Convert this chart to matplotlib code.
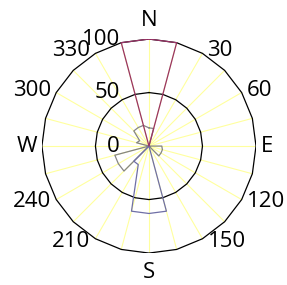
import numpy as np
import matplotlib
matplotlib.use("Agg")
import matplotlib.pyplot as plt

# 24 directions, 15 degrees apart, labels only every 30 degrees
directions = list(range(0, 360, 15))
dir_labels = ["N", "", "30", "", "60", "", "E", "", "120", "", "150", "",
              "S", "", "210", "", "240", "", "W", "", "300", "", "330", ""]

# series values (per direction above)
red_vals = [100, 100, 0, 0, 0, 0, 0, 0, 0, 0, 0, 0,
            0, 0, 0, 0, 0, 0, 0, 0, 0, 0, 0, 100]
blue_vals = [0, 0, 0, 0, 0, 0, 0, 0, 0, 0, 0, 63,
             63, 63, 20, 20, 0, 0, 0, 0, 0, 0, 0, 0]
gray_vals = [17, 17, 0, 0, 0, 0, 12, 13, 13, 13, 0, 0,
             0, 0, 0, 33, 33, 33, 0, 12, 10, 20, 20, 20]
rings = [50, 100]
rlabels = [0, 50, 100]

RED = "#993366"
BLUE = "#6F6FA6"
GRAY = "#858585"
SPOKE = "#FFFF9E"

plt.rcParams["font.family"] = ["Open Sans", "DejaVu Sans"]

theta = np.deg2rad(directions)
sx, sy = np.sin(theta), np.cos(theta)   # clockwise from north


def polygon(vals):
    v = np.append(vals, vals[0])
    return v * np.append(sx, sx[0]), v * np.append(sy, sy[0])


fig = plt.figure(figsize=(2.87, 2.85), dpi=100)
ax = fig.add_axes([0.146, 0.112, 0.746, 0.751])
ax.set_xlim(-100, 100)
ax.set_ylim(-100, 100)
ax.set_axis_off()

# spokes
for x, y in zip(sx, sy):
    ax.plot([0, 100 * x], [0, 100 * y], color=SPOKE, linewidth=0.8, zorder=1)
# polygon gridlines (radar style)
for r in rings:
    ax.plot(*polygon([r] * len(directions)), color="black", linewidth=0.9, zorder=2)

for vals, col in [(gray_vals, GRAY), (blue_vals, BLUE), (red_vals, RED)]:
    ax.plot(*polygon(vals), color=col, linewidth=0.9, zorder=3)

# direction labels, placed beside the outer vertex (Excel style)
for x, y, lab in zip(sx, sy, dir_labels):
    if not lab:
        continue
    if abs(x) < 0.01:
        ha, dx = "center", 0
    else:
        ha, dx = ("left", 5) if x > 0 else ("right", -5)
    if y > 0.99:
        va, dy = "bottom", 8
    elif y < -0.99:
        va, dy = "top", -9
    else:
        va, dy = "center", 3.5 * y
    ax.annotate(lab, xy=(100 * x, 100 * y), xytext=(dx, dy),
                textcoords="offset pixels", ha=ha, va=va, fontsize=16,
                annotation_clip=False)

# value axis labels, left of the north spoke
for v in rlabels:
    ax.annotate(str(v), xy=(0, v), xytext=(-29, 0), textcoords="offset pixels",
                ha="right", va="center", fontsize=16, zorder=5,
                annotation_clip=False)

fig.savefig("out.png", dpi=100)
